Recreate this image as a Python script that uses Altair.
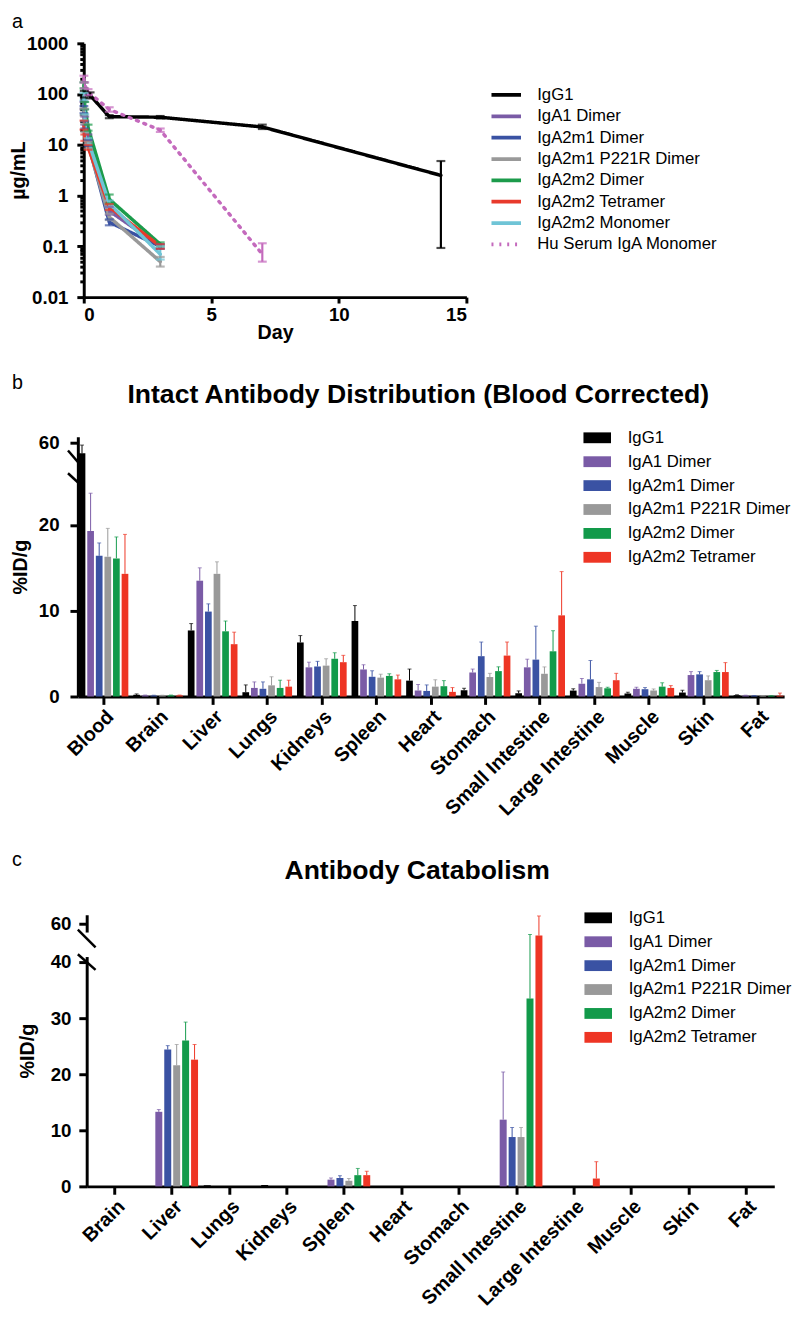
import altair as alt
import pandas as pd

FONT = "Liberation Sans"

# ---------------- Panel a : serum concentration ----------------
series_a = ["IgG1", "IgA1 Dimer", "IgA2m1 Dimer", "IgA2m1 P221R Dimer",
            "IgA2m2 Dimer", "IgA2m2 Tetramer", "IgA2m2 Monomer", "Hu Serum IgA Monomer"]
colors_a = ["#000000", "#7a5ba6", "#3a52a3", "#999999", "#1c9b4b", "#e83a2c", "#6fc4d6", "#c46abd"]

days_igg1 = [0.02, 0.25, 1, 3, 7, 14]
igg1 = [100, 95, 36, 35, 22.5, 2.5]
igg1_lo = [86, 82, 33.5, 33, 20.5, 0.093]
igg1_hi = [116, 108, 38.5, 37, 25, 4.8]

days_iga = [0.007, 0.04, 0.17, 1, 3]
iga1 = [60, 30, 14, 0.5, 0.1]
iga1_lo = [50, 25, 12, 0.42, 0.09]
iga1_hi = [70, 36, 16, 0.6, 0.11]
iga2m1 = [50, 25, 11, 0.3, 0.1]
iga2m1_lo = [42, 21, 9.5, 0.26, 0.09]
iga2m1_hi = [58, 29, 12.5, 0.34, 0.11]
p221r = [45, 22, 10, 0.38, 0.05]
p221r_lo = [38, 18, 8.5, 0.33, 0.04]
p221r_hi = [52, 26, 11.5, 0.44, 0.062]
iga2m2 = [150, 60, 22, 0.85, 0.11]
iga2m2_lo = [130, 50, 19, 0.7, 0.1]
iga2m2_hi = [170, 70, 25, 1.05, 0.12]
tetra = [25, 14, 9, 0.6, 0.1]
tetra_lo = [20, 12, 8, 0.52, 0.09]
tetra_hi = [30, 16, 10, 0.68, 0.11]
mono = [90, 35, 12, 0.7, 0.07]
mono_lo = [75, 30, 10.5, 0.6, 0.055]
mono_hi = [105, 40, 13.5, 0.8, 0.1]

days_hu = [0.007, 0.04, 0.17, 1, 3, 7]
hu = [200, 150, 110, 50, 19.5, 0.07]
hu_lo = [170, 130, 95, 45, 18, 0.05]
hu_hi = [230, 170, 125, 55, 21, 0.115]

a_sets = [
    ("IgG1", days_igg1, igg1, igg1_lo, igg1_hi),
    ("IgA1 Dimer", days_iga, iga1, iga1_lo, iga1_hi),
    ("IgA2m1 Dimer", days_iga, iga2m1, iga2m1_lo, iga2m1_hi),
    ("IgA2m1 P221R Dimer", days_iga, p221r, p221r_lo, p221r_hi),
    ("IgA2m2 Dimer", days_iga, iga2m2, iga2m2_lo, iga2m2_hi),
    ("IgA2m2 Tetramer", days_iga, tetra, tetra_lo, tetra_hi),
    ("IgA2m2 Monomer", days_iga, mono, mono_lo, mono_hi),
    ("Hu Serum IgA Monomer", days_hu, hu, hu_lo, hu_hi),
]
rows = []
for name, d, v, lo, hi in a_sets:
    for i in range(len(d)):
        rows.append({"series": name, "day": d[i], "value": v[i], "lo": lo[i], "hi": hi[i]})
df_a = pd.DataFrame(rows)

# ---------------- Panel b : intact antibody distribution ----------------
organs_b = ["Blood", "Brain", "Liver", "Lungs", "Kidneys", "Spleen", "Heart", "Stomach",
            "Small Intestine", "Large Intestine", "Muscle", "Skin", "Fat"]
series_b = ["IgG1", "IgA1 Dimer", "IgA2m1 Dimer", "IgA2m1 P221R Dimer", "IgA2m2 Dimer", "IgA2m2 Tetramer"]
colors_b = ["#000000", "#7a5ba6", "#3a52a3", "#999999", "#129a4a", "#ee3524"]

b_vals = {
    "IgG1":               [55.5, 0.2, 7.7, 0.5, 6.3, 8.8, 1.85, 0.73, 0.38, 0.69, 0.35, 0.46, 0.15],
    "IgA1 Dimer":         [19.3, 0.12, 13.5, 1.0, 3.4, 3.15, 0.7, 2.8, 3.4, 1.5, 0.9, 2.5, 0.1],
    "IgA2m1 Dimer":       [16.4, 0.1, 9.9, 0.9, 3.5, 2.3, 0.65, 4.7, 4.3, 2.0, 0.85, 2.58, 0.08],
    "IgA2m1 P221R Dimer": [16.3, 0.1, 14.3, 1.3, 3.6, 2.2, 1.15, 2.27, 2.65, 1.1, 0.7, 1.9, 0.06],
    "IgA2m2 Dimer":       [16.1, 0.12, 7.6, 1.0, 4.4, 2.4, 1.2, 2.96, 5.27, 0.96, 1.15, 2.85, 0.07],
    "IgA2m2 Tetramer":    [14.3, 0.12, 6.1, 1.15, 4.0, 2.0, 0.54, 4.77, 9.46, 1.9, 1.0, 2.85, 0.1],
}
b_errs = {
    "IgG1":               [3.5, 0.1, 0.8, 0.85, 0.8, 1.8, 1.35, 0.23, 0.27, 0.21, 0.15, 0.27, 0.05],
    "IgA1 Dimer":         [4.4, 0.05, 1.5, 0.7, 0.6, 0.55, 0.7, 0.4, 0.95, 0.6, 0.18, 0.4, 0.05],
    "IgA2m1 Dimer":       [1.5, 0.05, 0.9, 0.8, 0.6, 0.7, 0.7, 1.65, 3.9, 2.2, 0.19, 0.32, 0.04],
    "IgA2m1 P221R Dimer": [3.3, 0.05, 1.4, 1.0, 0.8, 0.4, 0.8, 0.43, 0.8, 0.55, 0.18, 0.5, 0.03],
    "IgA2m2 Dimer":       [2.5, 0.05, 1.2, 0.9, 0.7, 0.25, 0.65, 0.5, 2.4, 0.12, 0.45, 0.19, 0.03],
    "IgA2m2 Tetramer":    [4.6, 0.05, 1.4, 0.75, 0.8, 0.5, 0.5, 1.58, 5.1, 0.8, 0.27, 1.1, 0.3],
}

# ---------------- Panel c : antibody catabolism ----------------
organs_c = ["Brain", "Liver", "Lungs", "Kidneys", "Spleen", "Heart", "Stomach",
            "Small Intestine", "Large Intestine", "Muscle", "Skin", "Fat"]
c_vals = {
    "IgG1":               [0, 0, 0.2, 0.25, 0, 0, 0, 0, 0, 0, 0, 0],
    "IgA1 Dimer":         [0, 13.3, 0, 0, 1.2, 0, 0, 11.9, 0, 0, 0, 0],
    "IgA2m1 Dimer":       [0, 24.4, 0, 0, 1.5, 0, 0, 8.8, 0, 0, 0, 0],
    "IgA2m1 P221R Dimer": [0, 21.6, 0, 0, 1.0, 0, 0, 8.8, 0, 0, 0, 0],
    "IgA2m2 Dimer":       [0, 26.0, 0, 0, 2.0, 0, 0, 33.5, 0, 0, 0, 0],
    "IgA2m2 Tetramer":    [0, 22.6, 0, 0, 2.0, 0, 0, 54.5, 1.4, 0, 0, 0],
}
c_errs = {
    "IgG1":               [0, 0, 0, 0, 0, 0, 0, 0, 0, 0, 0, 0],
    "IgA1 Dimer":         [0, 0.4, 0, 0, 0.3, 0, 0, 8.5, 0, 0, 0, 0],
    "IgA2m1 Dimer":       [0, 0.7, 0, 0, 0.4, 0, 0, 1.7, 0, 0, 0, 0],
    "IgA2m1 P221R Dimer": [0, 3.7, 0, 0, 0.4, 0, 0, 1.7, 0, 0, 0, 0],
    "IgA2m2 Dimer":       [0, 3.3, 0, 0, 1.2, 0, 0, 21.5, 0, 0, 0, 0],
    "IgA2m2 Tetramer":    [0, 2.7, 0, 0, 0.7, 0, 0, 9.0, 3.0, 0, 0, 0],
}


def bar_frame(organs, vals, errs):
    out = []
    for s in series_b:
        for i, o in enumerate(organs):
            out.append({"organ": o, "series": s, "value": vals[s][i],
                        "err": errs[s][i], "top": vals[s][i] + errs[s][i]})
    return pd.DataFrame(out)


df_b = bar_frame(organs_b, b_vals, b_errs)
df_c = bar_frame(organs_c, c_vals, c_errs)
one = pd.DataFrame({"k": [0]})


def label_text(txt, x, y, size, baseline="alphabetic", align="left", bold=False):
    return alt.Chart(one).mark_text(text=txt, font=FONT, fontSize=size,
                                    fontWeight="bold" if bold else "normal", align=align,
                                    baseline=baseline, color="black").encode(
        x=alt.value(x), y=alt.value(y))


# ======================= chart a =======================
line_legend = alt.Legend(title=None, orient="none", legendX=426, legendY=43,
                         symbolType="M-2,0H2", symbolSize=225, symbolStrokeWidth=3.8,
                         symbolOpacity=1, labelFont=FONT, labelFontSize=17, labelColor="black",
                         labelOffset=22, rowPadding=3.7, labelLimit=400)
xa_scale = alt.Scale(domain=[0, 15], range=[6, 395], nice=False, zero=False)
ya_scale = alt.Scale(type="log", domain=[0.01, 1000], nice=False)
major_test = "abs(log(datum.value)/LN10 - round(log(datum.value)/LN10)) < 1e-6"
ya_ticks = []
for dec in [0.01, 0.1, 1, 10, 100]:
    for m in range(1, 10):
        ya_ticks.append(round(dec * m, 4))
ya_ticks.append(1000)
xa_axis = alt.Axis(values=[0, 5, 10, 15], title="Day", titlePadding=-2, labelPadding=3, tickSize=6)
ya_axis = alt.Axis(values=ya_ticks, format="~g", title="µg/mL", offset=-6,
                   labelExpr=f"{major_test} ? datum.label : ''", labelOverlap=False,
                   tickSize={"condition": {"test": major_test, "value": 7}, "value": 4},
                   titlePadding=-2, labelPadding=9)
color_a = alt.Color("series:N", scale=alt.Scale(domain=series_a, range=colors_a), legend=line_legend)
dash_a = alt.StrokeDash("series:N",
                        scale=alt.Scale(domain=series_a, range=[[1, 0]] * 7 + [[2, 6]]),
                        legend=line_legend)

lines_a = alt.Chart(df_a).mark_line(strokeWidth=3.5, strokeCap="round").encode(
    x=alt.X("day:Q", scale=xa_scale, axis=xa_axis),
    y=alt.Y("value:Q", scale=ya_scale, axis=ya_axis),
    color=color_a, strokeDash=dash_a, detail="series:N")
err_a = alt.Chart(df_a).mark_rule(strokeWidth=2.2).encode(
    x=alt.X("day:Q", scale=xa_scale, axis=xa_axis),
    y=alt.Y("lo:Q", scale=ya_scale, axis=ya_axis), y2="hi:Q", color=color_a)
caplo_a = alt.Chart(df_a).mark_tick(orient="horizontal", size=9, thickness=2.2).encode(
    x=alt.X("day:Q", scale=xa_scale, axis=xa_axis),
    y=alt.Y("lo:Q", scale=ya_scale, axis=ya_axis), color=color_a)
caphi_a = alt.Chart(df_a).mark_tick(orient="horizontal", size=9, thickness=2.2).encode(
    x=alt.X("day:Q", scale=xa_scale, axis=xa_axis),
    y=alt.Y("hi:Q", scale=ya_scale, axis=ya_axis), color=color_a)
letter_a = label_text("a", -67, -32, 20, baseline="top")

chart_a = alt.layer(lines_a, err_a, caplo_a, caphi_a, letter_a).properties(width=395, height=258)

# ======================= bar panels =======================
bar_legend_kw = dict(title=None, orient="none",
                     symbolType="M-1.4,-0.55H1.4V0.55H-1.4Z", symbolSize=400,
                     symbolStrokeWidth=0, symbolOpacity=1, labelFont=FONT, labelFontSize=17,
                     labelColor="black", labelOffset=21, rowPadding=6.3, labelLimit=400)


def bar_panel(df, organs, ydom, yrng, yvals, width, height, xrng, pin, pout,
              yoff, xoff, ylpad, ytpad, legx, legy, title, title_x, title_y, title_size,
              letter, letter_y, breaks, gap):
    xs = alt.Scale(paddingInner=pin, paddingOuter=pout, range=xrng)
    xax = alt.Axis(title=None, labelAngle=-45, labelFontSize=20, labelPadding=2, offset=xoff)
    ys = alt.Scale(domain=ydom, range=yrng, nice=False, zero=False)
    yax = alt.Axis(values=yvals, title="%ID/g", offset=yoff, labelPadding=ylpad, titlePadding=ytpad)
    col = alt.Color("series:N", scale=alt.Scale(domain=series_b, range=colors_b),
                    legend=alt.Legend(legendX=legx, legendY=legy, **bar_legend_kw))
    X = alt.X("organ:N", sort=organs, scale=xs, axis=xax)
    XO = alt.XOffset("series:N", sort=series_b, scale=alt.Scale(paddingInner=0.22))
    bars = alt.Chart(df).mark_bar().encode(
        x=X, xOffset=XO, y=alt.Y("value:Q", scale=ys, axis=yax), color=col)
    errs = alt.Chart(df).transform_filter("datum.err > 0").mark_rule(strokeWidth=1).encode(
        x=X, xOffset=XO, y=alt.Y("value:Q", scale=ys, axis=yax), y2="top:Q", color=col)
    caps = alt.Chart(df).transform_filter("datum.err > 0").mark_tick(
        orient="horizontal", size=4, thickness=1).encode(
        x=X, xOffset=XO, y=alt.Y("top:Q", scale=ys, axis=yax), color=col)
    layers = [bars, errs, caps]
    if gap is not None:
        layers.append(alt.Chart(one).mark_rect(color="white").encode(
            x=alt.value(gap[0]), x2=alt.value(gap[1]),
            y=alt.Y(datum=gap[2], scale=ys, axis=yax), y2=alt.datum(gap[3])))
    for (x1, x2, y1, y2) in breaks:
        layers.append(alt.Chart(one).mark_rule(color="black", strokeWidth=2.5).encode(
            x=alt.value(x1), x2=alt.value(x2),
            y=alt.Y(datum=y1, scale=ys, axis=yax), y2=alt.datum(y2)))
    layers.append(label_text(letter, -67, letter_y, 20))
    layers.append(label_text(title, title_x, title_y, title_size, align="center", bold=True))
    return alt.layer(*layers).properties(width=width, height=height)


chart_b = bar_panel(df_b, organs_b, [0, 25, 50, 62.5], [264, 46, 30, 0], [0, 10, 20, 60],
                    718, 344, [0, 718], 0.09, 0.015, 0, -80, 11, 8, 518, -9,
                    "Intact Antibody Distribution (Blood Corrected)", 346, -34, 27, "b", -49,
                    [(-10, 3, 56.7, 50.4), (-10, 3, 39.0, 24.66)], None)

chart_c = bar_panel(df_c, organs_c, [0, 41, 50, 64], [276, 42.3, 31, 0],
                    [0, 10, 20, 30, 40, 60],
                    708, 276, [9, 708], 0.1, 0.04, -9, 0, 8, 13, 519, -7,
                    "Antibody Catabolism", 345, -36, 27, "c", -50,
                    [(0, 18, 57.2, 48.4), (0, 18, 42.8, 38.6)], (5, 13, 55.9, 40.9))

chart = alt.vconcat(chart_a, chart_b, chart_c, spacing=142, bounds="flush",
                    padding={"left": 0, "top": -7, "right": 0, "bottom": 5}).resolve_scale(
    x="independent", y="independent", color="independent", strokeDash="independent",
    xOffset="independent").resolve_legend(color="independent", strokeDash="independent"
).configure_view(stroke=None).configure_axis(
    domainColor="black", domainWidth=3, tickColor="black", tickWidth=3, tickSize=8,
    labelFont=FONT, labelFontSize=19, labelFontWeight="bold", labelColor="black",
    titleFont=FONT, titleFontSize=20, titleFontWeight="bold", titleColor="black", grid=False)

chart.save("out.html", embed_options={"renderer": "svg", "actions": False})
